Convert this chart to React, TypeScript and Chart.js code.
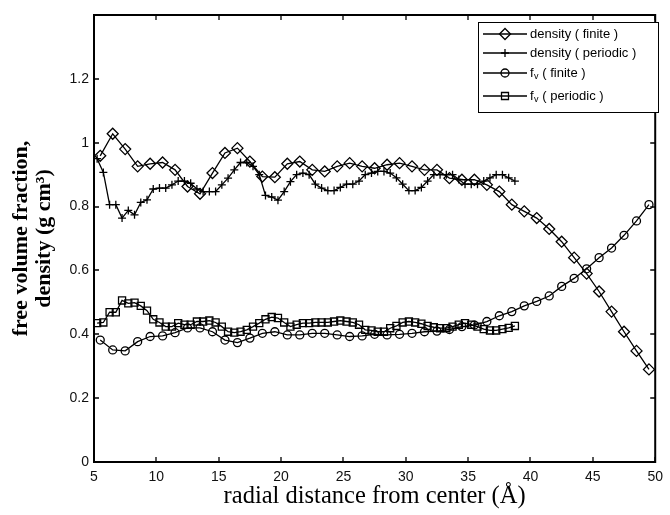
import { useEffect, useRef } from 'react';
import { Chart, registerables } from 'chart.js';

Chart.register(...registerables);

// ---- data ----
const finiteX = [
  5.5, 6.5, 7.5, 8.5, 9.5, 10.5, 11.5, 12.5, 13.5, 14.5,
  15.5, 16.5, 17.5, 18.5, 19.5, 20.5, 21.5, 22.5, 23.5, 24.5,
  25.5, 26.5, 27.5, 28.5, 29.5, 30.5, 31.5, 32.5, 33.5, 34.5,
  35.5, 36.5, 37.5, 38.5, 39.5, 40.5, 41.5, 42.5, 43.5, 44.5,
  45.5, 46.5, 47.5, 48.5, 49.5,
];
const densityFinite = [
  0.959, 1.028, 0.98, 0.926, 0.934, 0.938, 0.915, 0.863, 0.84, 0.905,
  0.968, 0.983, 0.941, 0.894, 0.892, 0.934, 0.941, 0.915, 0.91, 0.926,
  0.936, 0.926, 0.92, 0.931, 0.936, 0.926, 0.915, 0.915, 0.889, 0.884,
  0.884, 0.868, 0.847, 0.806, 0.785, 0.764, 0.73, 0.69, 0.64, 0.59,
  0.534, 0.471, 0.408, 0.348, 0.29,
];
const fvFinite = [
  0.382, 0.351, 0.348, 0.377, 0.393, 0.395, 0.405, 0.42, 0.42, 0.408,
  0.382, 0.374, 0.388, 0.403, 0.408, 0.398, 0.398, 0.403, 0.403, 0.398,
  0.393, 0.395, 0.4, 0.398, 0.4, 0.403, 0.408, 0.41, 0.415, 0.424,
  0.429, 0.44, 0.458, 0.471, 0.489, 0.503, 0.52, 0.55, 0.575, 0.605,
  0.64, 0.67, 0.71, 0.755, 0.806,
];
const periodicX = [
  5.25, 5.75, 6.25, 6.75, 7.25, 7.75, 8.25, 8.75, 9.25, 9.75,
  10.25, 10.75, 11.25, 11.75, 12.25, 12.75, 13.25, 13.75, 14.25, 14.75,
  15.25, 15.75, 16.25, 16.75, 17.25, 17.75, 18.25, 18.75, 19.25, 19.75,
  20.25, 20.75, 21.25, 21.75, 22.25, 22.75, 23.25, 23.75, 24.25, 24.75,
  25.25, 25.75, 26.25, 26.75, 27.25, 27.75, 28.25, 28.75, 29.25, 29.75,
  30.25, 30.75, 31.25, 31.75, 32.25, 32.75, 33.25, 33.75, 34.25, 34.75,
  35.25, 35.75, 36.25, 36.75, 37.25, 37.75, 38.25, 38.75,
];
const densityPeriodic = [
  0.95, 0.907, 0.806, 0.806, 0.764, 0.788, 0.774, 0.813, 0.821, 0.855,
  0.858, 0.858, 0.868, 0.88, 0.88, 0.873, 0.855, 0.847, 0.847, 0.847,
  0.868, 0.889, 0.915, 0.938, 0.938, 0.926, 0.9, 0.835, 0.83, 0.82,
  0.847, 0.878, 0.9, 0.905, 0.9, 0.87, 0.858, 0.85, 0.85, 0.86,
  0.87, 0.87, 0.88, 0.9, 0.905, 0.91, 0.91, 0.905, 0.89, 0.87,
  0.85, 0.85, 0.86, 0.88, 0.9, 0.9, 0.9, 0.9, 0.885, 0.87,
  0.87, 0.87, 0.88, 0.89, 0.9, 0.9, 0.89, 0.88,
];
const fvPeriodic = [
  0.435, 0.437, 0.469, 0.469, 0.506, 0.497, 0.499, 0.489, 0.474, 0.447,
  0.437, 0.424, 0.424, 0.435, 0.43, 0.43, 0.44, 0.44, 0.443, 0.437,
  0.424, 0.408, 0.405, 0.408, 0.414, 0.424, 0.435, 0.447, 0.454, 0.451,
  0.437, 0.424, 0.43, 0.435, 0.435, 0.437, 0.437, 0.437, 0.44, 0.443,
  0.44, 0.437, 0.43, 0.414, 0.412, 0.408, 0.408, 0.419, 0.426, 0.437,
  0.44, 0.437, 0.433, 0.426, 0.422, 0.419, 0.419, 0.424, 0.43, 0.435,
  0.43, 0.424, 0.416, 0.412, 0.412, 0.416, 0.42, 0.426,
];
const xTicks = [5, 10, 15, 20, 25, 30, 35, 40, 45, 50];
const yTicks = [0, 0.2, 0.4, 0.6, 0.8, 1, 1.2];

const legendMain = ['density', 'density', 'f', 'f'];
const legendSub = ['', '', 'v', 'v'];
const legendTail = [' ( finite )', ' ( periodic )', ' ( finite )', ' ( periodic )'];
const legendMarker = ['diamond', 'plus', 'circle', 'square'];

const SANS = "'Liberation Sans', Arial, Helvetica, sans-serif";
const SERIF = "'Liberation Serif', 'Times New Roman', serif";

function drawMarker(ctx: CanvasRenderingContext2D, kind: string, x: number, y: number) {
  ctx.beginPath();
  if (kind === 'diamond') {
    const r = 5.5;
    ctx.moveTo(x - r, y); ctx.lineTo(x, y - r); ctx.lineTo(x + r, y); ctx.lineTo(x, y + r); ctx.closePath();
  } else if (kind === 'plus') {
    const r = 4;
    ctx.moveTo(x - r, y); ctx.lineTo(x + r, y); ctx.moveTo(x, y - r); ctx.lineTo(x, y + r);
  } else if (kind === 'circle') {
    ctx.arc(x, y, 4, 0, Math.PI * 2);
  } else {
    ctx.rect(x - 3.5, y - 3.5, 7, 7);
  }
  ctx.stroke();
}

const boxPlugin = {
  id: 'matlabBox',
  afterDatasetsDraw(chart: any) {
    const { ctx, chartArea, scales } = chart;
    const { left, right, top, bottom } = chartArea;
    const xs = scales.x;
    const ys = scales.y;
    ctx.save();
    ctx.strokeStyle = '#000';
    ctx.lineWidth = 1.3;
    ctx.beginPath();
    xTicks.forEach((v) => {
      const px = Math.round(xs.getPixelForValue(v));
      ctx.moveTo(px, bottom); ctx.lineTo(px, bottom - 5);
      ctx.moveTo(px, top); ctx.lineTo(px, top + 5);
    });
    yTicks.forEach((v) => {
      const py = Math.round(ys.getPixelForValue(v));
      ctx.moveTo(left, py); ctx.lineTo(left + 5, py);
      ctx.moveTo(right, py); ctx.lineTo(right - 5, py);
    });
    ctx.stroke();
    ctx.lineWidth = 2;
    ctx.strokeRect(left, top, right - left, bottom - top);

    // legend
    const bx = 478.5, by = 22.5, bw = 180, bh = 90;
    ctx.fillStyle = '#fff';
    ctx.fillRect(bx, by, bw, bh);
    ctx.lineWidth = 1;
    ctx.strokeRect(bx, by, bw, bh);
    const rows = [34, 53, 73, 96];
    legendMain.forEach((main, i) => {
      const ry = rows[i];
      ctx.lineWidth = 1.3;
      ctx.beginPath();
      ctx.moveTo(483, ry); ctx.lineTo(527, ry);
      ctx.stroke();
      drawMarker(ctx, legendMarker[i], 505, ry);
      ctx.fillStyle = '#000';
      ctx.textBaseline = 'middle';
      ctx.textAlign = 'left';
      ctx.font = `13px ${SANS}`;
      let tx = 530;
      ctx.fillText(main, tx, ry);
      tx += ctx.measureText(main).width;
      if (legendSub[i]) {
        ctx.font = `9px ${SANS}`;
        ctx.fillText(legendSub[i], tx + 0.5, ry + 4);
        tx += ctx.measureText(legendSub[i]).width + 0.5;
        ctx.font = `13px ${SANS}`;
      }
      ctx.fillText(legendTail[i], tx, ry);
    });
    ctx.restore();
  },
};

function makeData(xv: number[], yv: number[]) {
  return xv.map((x, i) => ({ x, y: yv[i] }));
}

export default function App() {
  const ref = useRef<HTMLCanvasElement | null>(null);
  useEffect(() => {
    document.body.style.margin = '0';
    const canvas = ref.current;
    if (!canvas) return;
    const common = {
      borderColor: '#000',
      borderWidth: 1.3,
      pointBorderColor: '#000',
      pointBackgroundColor: 'rgba(0,0,0,0)',
      pointBorderWidth: 1.3,
      fill: false,
      tension: 0,
      showLine: true,
    };
    const chart = new Chart(canvas, {
      type: 'line',
      data: {
        datasets: [
          { ...common, label: 'density ( finite )', data: makeData(finiteX, densityFinite), pointStyle: 'rectRot', pointRadius: 5.5 },
          { ...common, label: 'density ( periodic )', data: makeData(periodicX, densityPeriodic), pointStyle: 'cross', pointRadius: 4 },
          { ...common, label: 'fv ( finite )', data: makeData(finiteX, fvFinite), pointStyle: 'circle', pointRadius: 4 },
          { ...common, label: 'fv ( periodic )', data: makeData(periodicX, fvPeriodic), pointStyle: 'rect', pointRadius: 5 },
        ] as any,
      },
      options: {
        responsive: false,
        animation: false,
        devicePixelRatio: 1,
        layout: { padding: { left: 0, right: 7, top: 15, bottom: 0 } },
        plugins: { legend: { display: false }, tooltip: { enabled: false } },
        scales: {
          x: {
            type: 'linear',
            min: 5,
            max: 50,
            afterBuildTicks: (s: any) => { s.ticks = xTicks.map((v) => ({ value: v })); },
            afterFit: (s: any) => { s.height = 53; },
            grid: { display: false, drawTicks: false },
            border: { display: false },
            ticks: {
              font: { family: SANS, size: 14 },
              color: '#111',
              padding: 7,
              maxRotation: 0,
              autoSkip: false,
              callback: (v: any) => String(v),
            },
            title: {
              display: true,
              text: 'radial distance from center (Å)',
              font: { family: SERIF, size: 24.5 },
              color: '#000',
              padding: { top: 0, bottom: 4 },
            },
          },
          y: {
            type: 'linear',
            min: 0,
            max: 1.4,
            afterBuildTicks: (s: any) => { s.ticks = yTicks.map((v) => ({ value: v })); },
            afterFit: (s: any) => { s.width = 94; },
            grid: { display: false, drawTicks: false },
            border: { display: false },
            ticks: {
              font: { family: SANS, size: 14 },
              color: '#111',
              padding: 5,
              autoSkip: false,
              callback: (v: any) => String(Math.round(Number(v) * 10) / 10),
            },
            title: {
              display: true,
              text: ['free volume fraction,', 'density (g cm³)'],
              font: { family: SERIF, size: 22, weight: 'bold', lineHeight: 1.05 },
              color: '#000',
              padding: { top: 10, bottom: 0 },
            },
          },
        },
      } as any,
      plugins: [boxPlugin],
    });
    return () => chart.destroy();
  }, []);
  return (
    <div style={{ width: 670, height: 515 }}>
      <canvas ref={ref} width={670} height={515} style={{ display: 'block' }} />
    </div>
  );
}
